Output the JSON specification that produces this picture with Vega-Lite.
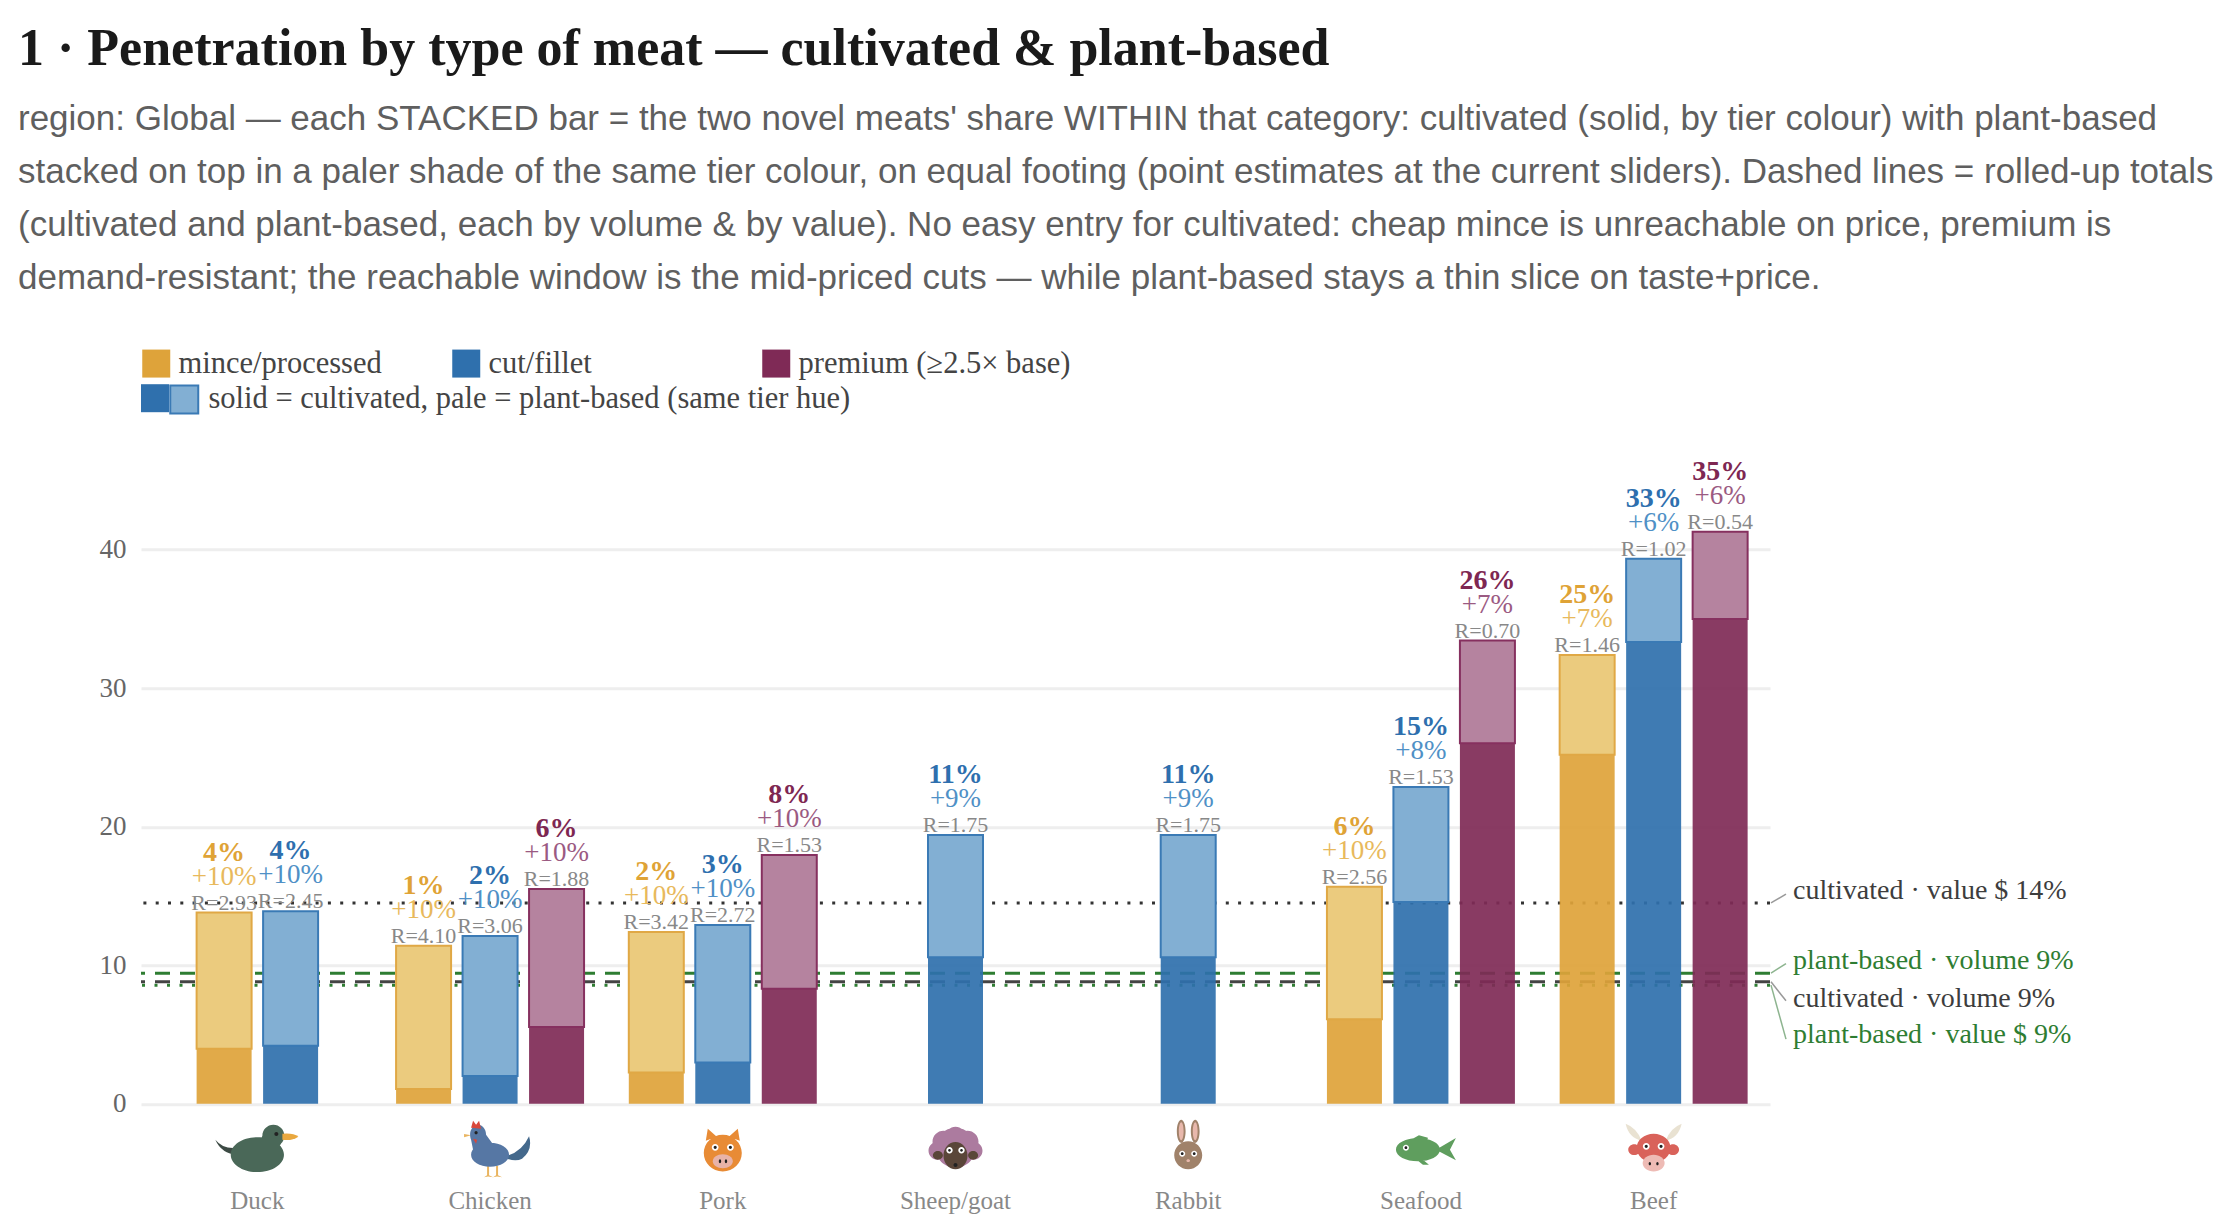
{
  "$schema": "https://vega.github.io/schema/vega-lite/v6.json",
  "width": 1629,
  "height": 692.5,
  "autosize": "none",
  "padding": {"left": 141, "top": 411.2, "right": 466, "bottom": 128.3},
  "background": "white",
  "title": {
    "text": "1 · Penetration by type of meat — cultivated & plant-based",
    "subtitle": [
      "region: Global — each STACKED bar = the two novel meats' share WITHIN that category: cultivated (solid, by tier colour) with plant-based",
      "stacked on top in a paler shade of the same tier colour, on equal footing (point estimates at the current sliders). Dashed lines = rolled-up totals",
      "(cultivated and plant-based, each by volume & by value). No easy entry for cultivated: cheap mince is unreachable on price, premium is",
      "demand-resistant; the reachable window is the mid-priced cuts — while plant-based stays a thin slice on taste+price."
    ],
    "anchor": "start",
    "frame": "group",
    "dx": -123,
    "offset": 51,
    "font": "Liberation Serif",
    "fontWeight": "bold",
    "fontSize": 52,
    "color": "#1a1a1a",
    "subtitleFont": "Liberation Sans",
    "subtitleFontSize": 35,
    "subtitleColor": "#5f5f5f",
    "subtitleLineHeight": 53,
    "subtitlePadding": 26
  },
  "config": {
    "view": {"stroke": null},
    "font": "Liberation Serif"
  },
  "datasets": {
    "bars": [
      {"meat": "Duck", "tier": "mince/processed", "slot": "midleft", "cultivated": 3.97, "total": 13.8, "share": "4%", "plant": "+10%", "ratio": "R=2.93"},
      {"meat": "Duck", "tier": "cut/fillet", "slot": "midright", "cultivated": 4.18, "total": 13.9, "share": "4%", "plant": "+10%", "ratio": "R=2.45"},
      {"meat": "Chicken", "tier": "mince/processed", "slot": "left", "cultivated": 1.06, "total": 11.4, "share": "1%", "plant": "+10%", "ratio": "R=4.10"},
      {"meat": "Chicken", "tier": "cut/fillet", "slot": "centre", "cultivated": 2.0, "total": 12.1, "share": "2%", "plant": "+10%", "ratio": "R=3.06"},
      {"meat": "Chicken", "tier": "premium (≥2.5× base)", "slot": "right", "cultivated": 5.53, "total": 15.5, "share": "6%", "plant": "+10%", "ratio": "R=1.88"},
      {"meat": "Pork", "tier": "mince/processed", "slot": "left", "cultivated": 2.26, "total": 12.4, "share": "2%", "plant": "+10%", "ratio": "R=3.42"},
      {"meat": "Pork", "tier": "cut/fillet", "slot": "centre", "cultivated": 2.98, "total": 12.9, "share": "3%", "plant": "+10%", "ratio": "R=2.72"},
      {"meat": "Pork", "tier": "premium (≥2.5× base)", "slot": "right", "cultivated": 8.3, "total": 17.96, "share": "8%", "plant": "+10%", "ratio": "R=1.53"},
      {"meat": "Sheep/goat", "tier": "cut/fillet", "slot": "centre", "cultivated": 10.58, "total": 19.4, "share": "11%", "plant": "+9%", "ratio": "R=1.75"},
      {"meat": "Rabbit", "tier": "cut/fillet", "slot": "centre", "cultivated": 10.58, "total": 19.4, "share": "11%", "plant": "+9%", "ratio": "R=1.75"},
      {"meat": "Seafood", "tier": "mince/processed", "slot": "left", "cultivated": 6.1, "total": 15.67, "share": "6%", "plant": "+10%", "ratio": "R=2.56"},
      {"meat": "Seafood", "tier": "cut/fillet", "slot": "centre", "cultivated": 14.57, "total": 22.86, "share": "15%", "plant": "+8%", "ratio": "R=1.53"},
      {"meat": "Seafood", "tier": "premium (≥2.5× base)", "slot": "right", "cultivated": 26.03, "total": 33.44, "share": "26%", "plant": "+7%", "ratio": "R=0.70"},
      {"meat": "Beef", "tier": "mince/processed", "slot": "left", "cultivated": 25.2, "total": 32.4, "share": "25%", "plant": "+7%", "ratio": "R=1.46"},
      {"meat": "Beef", "tier": "cut/fillet", "slot": "centre", "cultivated": 33.34, "total": 39.35, "share": "33%", "plant": "+6%", "ratio": "R=1.02"},
      {"meat": "Beef", "tier": "premium (≥2.5× base)", "slot": "right", "cultivated": 35.0, "total": 41.3, "share": "35%", "plant": "+6%", "ratio": "R=0.54"}
    ],
    "totals": [
      {"series": "cultivated · value $ 14%", "value": 14.5, "end": "Beef"},
      {"series": "plant-based · volume 9%", "value": 9.42, "end": "Beef"},
      {"series": "cultivated · volume 9%", "value": 8.8, "end": "Beef"},
      {"series": "plant-based · value $ 9%", "value": 8.56, "end": "Beef"}
    ],
    "icons": [
      {"meat": "Duck", "part": "duck-tail"},
      {"meat": "Duck", "part": "duck-body"},
      {"meat": "Duck", "part": "duck-bill"},
      {"meat": "Duck", "part": "duck-eye"},
      {"meat": "Chicken", "part": "chicken-tail"},
      {"meat": "Chicken", "part": "chicken-feet"},
      {"meat": "Chicken", "part": "chicken-body"},
      {"meat": "Chicken", "part": "chicken-comb"},
      {"meat": "Chicken", "part": "chicken-eye"},
      {"meat": "Pork", "part": "pig-head"},
      {"meat": "Pork", "part": "pig-snout"},
      {"meat": "Pork", "part": "pig-eyes"},
      {"meat": "Pork", "part": "pig-pupils"},
      {"meat": "Sheep/goat", "part": "sheep-wool"},
      {"meat": "Sheep/goat", "part": "sheep-face"},
      {"meat": "Sheep/goat", "part": "sheep-eyes"},
      {"meat": "Sheep/goat", "part": "sheep-pupils"},
      {"meat": "Rabbit", "part": "rabbit-body"},
      {"meat": "Rabbit", "part": "rabbit-inner"},
      {"meat": "Rabbit", "part": "rabbit-eyes"},
      {"meat": "Rabbit", "part": "rabbit-pupils"},
      {"meat": "Seafood", "part": "fish-body"},
      {"meat": "Seafood", "part": "fish-eye"},
      {"meat": "Seafood", "part": "fish-pupil"},
      {"meat": "Beef", "part": "cow-horns"},
      {"meat": "Beef", "part": "cow-head"},
      {"meat": "Beef", "part": "cow-snout"},
      {"meat": "Beef", "part": "cow-eyes"},
      {"meat": "Beef", "part": "cow-pupils"}
    ]
  },
  "resolve": {
    "scale": {"color": "independent", "stroke": "independent", "shape": "independent"},
    "legend": {"color": "independent"}
  },
  "encoding": {
    "x": {
      "field": "meat",
      "type": "nominal",
      "title": null,
      "scale": {
        "domain": ["Duck", "Chicken", "Pork", "Sheep/goat", "Rabbit", "Seafood", "Beef"],
        "paddingInner": 0,
        "paddingOuter": 0
      },
      "axis": {
        "domain": false,
        "ticks": false,
        "labelAngle": 0,
        "labelPadding": 85,
        "labelFont": "Liberation Serif",
        "labelFontSize": 25,
        "labelColor": "#888888"
      }
    }
  },
  "layer": [
    {
      "data": {"name": "totals"},
      "transform": [{"filter": "datum.series == 'cultivated · value $ 14%'"}],
      "mark": {"type": "rule", "color": "#333333", "strokeWidth": 3, "strokeDash": [3, 9.3]},
      "encoding": {
        "x": null,
        "y": {
          "field": "value",
          "type": "quantitative",
          "title": null,
          "scale": {"domain": [0, 50], "nice": false},
          "axis": {
            "values": [0, 10, 20, 30, 40],
            "grid": true,
            "gridColor": "#eeeeee",
            "gridWidth": 3,
            "domain": false,
            "ticks": false,
            "labelPadding": 15,
            "labelFont": "Liberation Serif",
            "labelFontSize": 27,
            "labelColor": "#666666"
          }
        }
      }
    },
    {
      "data": {"name": "totals"},
      "transform": [{"filter": "datum.series == 'plant-based · volume 9%'"}],
      "mark": {"type": "rule", "color": "#2e7d32", "strokeWidth": 3, "strokeDash": [15, 10]},
      "encoding": {"x": null, "y": {"field": "value", "type": "quantitative"}}
    },
    {
      "data": {"name": "totals"},
      "transform": [{"filter": "datum.series == 'plant-based · value $ 9%'"}],
      "mark": {"type": "rule", "color": "#2e7d32", "strokeWidth": 3, "strokeDash": [3, 9.5]},
      "encoding": {"x": null, "y": {"field": "value", "type": "quantitative"}}
    },
    {
      "data": {"name": "totals"},
      "transform": [{"filter": "datum.series == 'cultivated · volume 9%'"}],
      "mark": {"type": "rule", "color": "#444444", "strokeWidth": 3, "strokeDash": [15, 10]},
      "encoding": {"x": null, "y": {"field": "value", "type": "quantitative"}}
    },
    {
      "data": {"name": "bars"},
      "mark": {"type": "bar", "size": 55, "opacity": 0.92},
      "encoding": {
        "xOffset": {
          "field": "slot",
          "type": "nominal",
          "scale": {"domain": ["left", "midleft", "centre", "midright", "right"], "paddingInner": 0, "paddingOuter": 1.057}
        },
        "y": {"field": "cultivated", "type": "quantitative"},
        "y2": {"datum": 0},
        "color": {
          "field": "tier",
          "type": "nominal",
          "scale": {
            "domain": ["mince/processed", "cut/fillet", "premium (≥2.5× base)"],
            "range": ["#dea33a", "#2f70ad", "#7f2a56"]
          },
          "legend": {
            "title": null,
            "orient": "none",
            "legendX": 0,
            "legendY": -63,
            "padding": 0,
            "columns": 3,
            "gridAlign": "all",
            "columnPadding": -12,
            "symbolType": "square",
            "symbolSize": 784,
            "symbolStrokeWidth": 0,
            "symbolOpacity": 1,
            "labelOffset": 7,
            "labelLimit": 500,
            "labelFont": "Liberation Serif",
            "labelFontSize": 30.5,
            "labelColor": "#444444"
          }
        }
      }
    },
    {
      "data": {"name": "bars"},
      "mark": {"type": "bar", "size": 55, "strokeWidth": 2},
      "encoding": {
        "xOffset": {"field": "slot", "type": "nominal"},
        "y": {"field": "total", "type": "quantitative"},
        "y2": {"field": "cultivated"},
        "color": {
          "field": "tier",
          "type": "nominal",
          "scale": {
            "domain": ["mince/processed", "cut/fillet", "premium (≥2.5× base)"],
            "range": ["#ebcb7e", "#82afd3", "#b5839f"]
          },
          "legend": null
        },
        "stroke": {
          "field": "tier",
          "type": "nominal",
          "scale": {
            "domain": ["mince/processed", "cut/fillet", "premium (≥2.5× base)"],
            "range": ["#e0a845", "#3a7ab5", "#86305f"]
          },
          "legend": null
        }
      }
    },
    {
      "data": {"name": "bars"},
      "mark": {"type": "text", "dy": -3, "baseline": "alphabetic", "font": "Liberation Serif", "fontSize": 22, "color": "#888888"},
      "encoding": {
        "xOffset": {"field": "slot", "type": "nominal"},
        "y": {"field": "total", "type": "quantitative"},
        "text": {"field": "ratio"}
      }
    },
    {
      "data": {"name": "bars"},
      "mark": {"type": "text", "dy": -28, "baseline": "alphabetic", "font": "Liberation Serif", "fontSize": 27},
      "encoding": {
        "xOffset": {"field": "slot", "type": "nominal"},
        "y": {"field": "total", "type": "quantitative"},
        "text": {"field": "plant"},
        "color": {
          "field": "tier",
          "type": "nominal",
          "scale": {
            "domain": ["mince/processed", "cut/fillet", "premium (≥2.5× base)"],
            "range": ["#e8b95c", "#4f90c6", "#9b5a82"]
          },
          "legend": null
        }
      }
    },
    {
      "data": {"name": "bars"},
      "mark": {"type": "text", "dy": -52, "baseline": "alphabetic", "font": "Liberation Serif", "fontWeight": "bold", "fontSize": 28},
      "encoding": {
        "xOffset": {"field": "slot", "type": "nominal"},
        "y": {"field": "total", "type": "quantitative"},
        "text": {"field": "share"},
        "color": {
          "field": "tier",
          "type": "nominal",
          "scale": {
            "domain": ["mince/processed", "cut/fillet", "premium (≥2.5× base)"],
            "range": ["#dfa336", "#2e6fae", "#7e2752"]
          },
          "legend": null
        }
      }
    },
    {
      "data": {"name": "icons"},
      "mark": {"type": "point", "filled": true, "size": 1600, "opacity": 1, "strokeWidth": 0, "yOffset": 46},
      "encoding": {
        "y": {"datum": 0},
        "shape": {
          "field": "part",
          "type": "nominal",
          "legend": null,
          "scale": {
            "domain": ["duck-tail", "duck-body", "duck-bill", "duck-eye", "chicken-tail", "chicken-feet", "chicken-body", "chicken-comb", "chicken-eye", "pig-head", "pig-snout", "pig-eyes", "pig-pupils", "sheep-wool", "sheep-face", "sheep-eyes", "sheep-pupils", "rabbit-body", "rabbit-inner", "rabbit-eyes", "rabbit-pupils", "fish-body", "fish-eye", "fish-pupil", "cow-horns", "cow-head", "cow-snout", "cow-eyes", "cow-pupils"],
            "range": [
              "M-2.1,-0.5Q-1.7,0 -1,-0.1L-1,0.25Q-1.8,0.2 -2.1,-0.5Z",
              "M-1.33,0.25a1.33,0.87 0 1,1 2.66,0a1.33,0.87 0 1,1 -2.66,0ZM0.25,-0.7a0.55,0.55 0 1,1 1.1,0a0.55,0.55 0 1,1 -1.1,0ZM0.25,-0.7L1.3,-0.5L1,0L0.1,-0.3Z",
              "M1.25,-0.8Q1.8,-0.85 2.05,-0.65Q1.7,-0.42 1.25,-0.5Z",
              "M0.85,-0.78a0.1,0.1 0 1,1 0.2,0a0.1,0.1 0 1,1 -0.2,0Z",
              "M0.85,0.3Q1.6,0.1 1.95,-0.67Q2.15,0 1.6,0.45Q1.3,0.6 0.85,0.45Z",
              "M-0.15,0.8L-0.05,0.8L-0.05,1.28L0.15,1.38L-0.1,1.34L-0.3,1.38L-0.15,1.28ZM0.3,0.8L0.4,0.8L0.4,1.28L0.6,1.38L0.35,1.34L0.15,1.38L0.3,1.28ZM-1.3,-0.78L-0.95,-0.72L-1.3,-0.62Z",
              "M-0.95,0.25a0.95,0.6 0 1,1 1.9,0a0.95,0.6 0 1,1 -1.9,0ZM-1,-0.75a0.4,0.5 0 1,1 0.8,0a0.4,0.5 0 1,1 -0.8,0ZM-1,-0.75L-0.2,-0.75L0.2,-0.2L-0.85,0Z",
              "M-0.95,-1.1L-0.85,-1.45L-0.7,-1.25L-0.55,-1.45L-0.45,-1.05ZM-0.85,-0.55L-0.65,-0.5L-0.7,-0.3Z",
              "M-0.78,-0.85a0.08,0.08 0 1,1 0.16,0a0.08,0.08 0 1,1 -0.16,0Z",
              "M-0.95,0.17a0.95,0.92 0 1,1 1.9,0a0.95,0.92 0 1,1 -1.9,0ZM-0.85,-0.45L-0.75,-1.05L-0.3,-0.65ZM0.3,-0.65L0.75,-1.05L0.85,-0.45Z",
              "M-0.5,0.58a0.5,0.35 0 1,1 1,0a0.5,0.35 0 1,1 -1,0Z",
              "M-0.55,-0.12a0.17,0.17 0 1,1 0.34,0a0.17,0.17 0 1,1 -0.34,0ZM0.21,-0.12a0.17,0.17 0 1,1 0.34,0a0.17,0.17 0 1,1 -0.34,0Z",
              "M-0.46,-0.12a0.08,0.08 0 1,1 0.16,0a0.08,0.08 0 1,1 -0.16,0ZM0.3,-0.12a0.08,0.08 0 1,1 0.16,0a0.08,0.08 0 1,1 -0.16,0ZM-0.2,0.58a0.06,0.1 0 1,1 0.12,0a0.06,0.1 0 1,1 -0.12,0ZM0.1,0.58a0.06,0.1 0 1,1 0.12,0a0.06,0.1 0 1,1 -0.12,0Z",
              "M-1,-0.1a1,1 0 1,1 2,0a1,1 0 1,1 -2,0ZM-0.5,-0.65a0.5,0.5 0 1,1 1,0a0.5,0.5 0 1,1 -1,0ZM-1.15,-0.4a0.55,0.55 0 1,1 1.1,0a0.55,0.55 0 1,1 -1.1,0ZM0.05,-0.4a0.55,0.55 0 1,1 1.1,0a0.55,0.55 0 1,1 -1.1,0ZM-1.35,0.05a0.45,0.45 0 1,1 0.9,0a0.45,0.45 0 1,1 -0.9,0ZM0.45,0.05a0.45,0.45 0 1,1 0.9,0a0.45,0.45 0 1,1 -0.9,0Z",
              "M-0.6,0.3a0.6,0.68 0 1,1 1.2,0a0.6,0.68 0 1,1 -1.2,0ZM-1.13,0.28a0.25,0.22 0 1,1 0.5,0a0.25,0.22 0 1,1 -0.5,0ZM0.63,0.28a0.25,0.22 0 1,1 0.5,0a0.25,0.22 0 1,1 -0.5,0Z",
              "M-0.46,0.03a0.16,0.16 0 1,1 0.32,0a0.16,0.16 0 1,1 -0.32,0ZM0.14,0.03a0.16,0.16 0 1,1 0.32,0a0.16,0.16 0 1,1 -0.32,0Z",
              "M-0.37,0.03a0.07,0.07 0 1,1 0.14,0a0.07,0.07 0 1,1 -0.14,0ZM0.23,0.03a0.07,0.07 0 1,1 0.14,0a0.07,0.07 0 1,1 -0.14,0ZM-0.1,0.77a0.1,0.1 0 1,1 0.2,0a0.1,0.1 0 1,1 -0.2,0Z",
              "M-0.7,0.28a0.7,0.7 0 1,1 1.4,0a0.7,0.7 0 1,1 -1.4,0ZM-0.57,-0.92a0.22,0.58 0 1,1 0.44,0a0.22,0.58 0 1,1 -0.44,0ZM0.13,-0.92a0.22,0.58 0 1,1 0.44,0a0.22,0.58 0 1,1 -0.44,0Z",
              "M-0.47,-0.92a0.12,0.45 0 1,1 0.24,0a0.12,0.45 0 1,1 -0.24,0ZM0.23,-0.92a0.12,0.45 0 1,1 0.24,0a0.12,0.45 0 1,1 -0.24,0ZM-0.09,0.55a0.09,0.07 0 1,1 0.18,0a0.09,0.07 0 1,1 -0.18,0Z",
              "M-0.45,0.2a0.15,0.15 0 1,1 0.3,0a0.15,0.15 0 1,1 -0.3,0ZM0.15,0.2a0.15,0.15 0 1,1 0.3,0a0.15,0.15 0 1,1 -0.3,0Z",
              "M-0.37,0.2a0.07,0.07 0 1,1 0.14,0a0.07,0.07 0 1,1 -0.14,0ZM0.23,0.2a0.07,0.07 0 1,1 0.14,0a0.07,0.07 0 1,1 -0.14,0Z",
              "M-1.25,0a1.1,0.58 0 1,1 2.2,0a1.1,0.58 0 1,1 -2.2,0ZM0.75,0L1.75,-0.58L1.45,0L1.75,0.53ZM-0.5,-0.5L-0.1,-0.72L0.35,-0.6L0.3,-0.4ZM0.1,0.5L0.4,0.75L0.1,0.75L-0.15,0.55Z",
              "M-0.9,-0.1a0.15,0.15 0 1,1 0.3,0a0.15,0.15 0 1,1 -0.3,0Z",
              "M-0.82,-0.1a0.07,0.07 0 1,1 0.14,0a0.07,0.07 0 1,1 -0.14,0Z",
              "M-1.4,-1.3Q-0.85,-1.1 -0.6,-0.45Q-1.25,-0.6 -1.4,-1.3ZM1.4,-1.3Q1.25,-0.6 0.6,-0.45Q0.85,-1.1 1.4,-1.3Z",
              "M-0.85,-0.08a0.85,0.72 0 1,1 1.7,0a0.85,0.72 0 1,1 -1.7,0ZM-1.27,0a0.3,0.27 0 1,1 0.6,0a0.3,0.27 0 1,1 -0.6,0ZM0.67,0a0.3,0.27 0 1,1 0.6,0a0.3,0.27 0 1,1 -0.6,0Z",
              "M-0.55,0.67a0.55,0.42 0 1,1 1.1,0a0.55,0.42 0 1,1 -1.1,0Z",
              "M-0.54,-0.17a0.17,0.17 0 1,1 0.34,0a0.17,0.17 0 1,1 -0.34,0ZM0.2,-0.17a0.17,0.17 0 1,1 0.34,0a0.17,0.17 0 1,1 -0.34,0Z",
              "M-0.45,-0.17a0.08,0.08 0 1,1 0.16,0a0.08,0.08 0 1,1 -0.16,0ZM0.29,-0.17a0.08,0.08 0 1,1 0.16,0a0.08,0.08 0 1,1 -0.16,0ZM-0.25,0.7a0.06,0.08 0 1,1 0.12,0a0.06,0.08 0 1,1 -0.12,0ZM0.13,0.7a0.06,0.08 0 1,1 0.12,0a0.06,0.08 0 1,1 -0.12,0Z"
            ]
          }
        },
        "color": {
          "field": "part",
          "type": "nominal",
          "legend": null,
          "scale": {
            "domain": ["duck-tail", "duck-body", "duck-bill", "duck-eye", "chicken-tail", "chicken-feet", "chicken-body", "chicken-comb", "chicken-eye", "pig-head", "pig-snout", "pig-eyes", "pig-pupils", "sheep-wool", "sheep-face", "sheep-eyes", "sheep-pupils", "rabbit-body", "rabbit-inner", "rabbit-eyes", "rabbit-pupils", "fish-body", "fish-eye", "fish-pupil", "cow-horns", "cow-head", "cow-snout", "cow-eyes", "cow-pupils"],
            "range": ["#3c4a44", "#4a6858", "#e9a83f", "#222222", "#44698c", "#e9b45f", "#5677a4", "#d9483b", "#222222", "#e88b35", "#e8b3a8", "#ffffff", "#222222", "#ac7b9f", "#5a4639", "#ffffff", "#222222", "#a0826a", "#e8b8ac", "#ffffff", "#222222", "#5f9e5e", "#ffffff", "#222222", "#e9e2d2", "#d9625a", "#eebbb5", "#ffffff", "#222222"]
          }
        }
      }
    },
    {
      "data": {"name": "totals"},
      "transform": [{"filter": "datum.series == 'cultivated · value $ 14%'"}],
      "mark": {"type": "point", "shape": "M1,0L16,-8.7", "size": 4, "filled": false, "opacity": 1, "color": "#999999", "strokeWidth": 1.5},
      "encoding": {"x": {"field": "end", "type": "nominal", "bandPosition": 1}, "y": {"field": "value", "type": "quantitative"}}
    },
    {
      "data": {"name": "totals"},
      "transform": [{"filter": "datum.series == 'plant-based · volume 9%'"}],
      "mark": {"type": "point", "shape": "M1,0L16,-9.7", "size": 4, "filled": false, "opacity": 1, "color": "#8db48f", "strokeWidth": 1.5},
      "encoding": {"x": {"field": "end", "type": "nominal", "bandPosition": 1}, "y": {"field": "value", "type": "quantitative"}}
    },
    {
      "data": {"name": "totals"},
      "transform": [{"filter": "datum.series == 'cultivated · volume 9%'"}],
      "mark": {"type": "point", "shape": "M1,0L16,19", "size": 4, "filled": false, "opacity": 1, "color": "#999999", "strokeWidth": 1.5},
      "encoding": {"x": {"field": "end", "type": "nominal", "bandPosition": 1}, "y": {"field": "value", "type": "quantitative"}}
    },
    {
      "data": {"name": "totals"},
      "transform": [{"filter": "datum.series == 'plant-based · value $ 9%'"}],
      "mark": {"type": "point", "shape": "M1,0L16,54", "size": 4, "filled": false, "opacity": 1, "color": "#8db48f", "strokeWidth": 1.5},
      "encoding": {"x": {"field": "end", "type": "nominal", "bandPosition": 1}, "y": {"field": "value", "type": "quantitative"}}
    },
    {
      "data": {"name": "totals"},
      "transform": [{"filter": "datum.series == 'cultivated · value $ 14%'"}],
      "mark": {"type": "text", "align": "left", "baseline": "alphabetic", "dx": 23, "dy": -4, "font": "Liberation Serif", "fontSize": 28, "color": "#3d3d3d"},
      "encoding": {"x": {"field": "end", "type": "nominal", "bandPosition": 1}, "y": {"field": "value", "type": "quantitative"}, "text": {"field": "series"}}
    },
    {
      "data": {"name": "totals"},
      "transform": [{"filter": "datum.series == 'plant-based · volume 9%'"}],
      "mark": {"type": "text", "align": "left", "baseline": "alphabetic", "dx": 23, "dy": -4, "font": "Liberation Serif", "fontSize": 28, "color": "#2e7d32"},
      "encoding": {"x": {"field": "end", "type": "nominal", "bandPosition": 1}, "y": {"field": "value", "type": "quantitative"}, "text": {"field": "series"}}
    },
    {
      "data": {"name": "totals"},
      "transform": [{"filter": "datum.series == 'cultivated · volume 9%'"}],
      "mark": {"type": "text", "align": "left", "baseline": "alphabetic", "dx": 23, "dy": 25, "font": "Liberation Serif", "fontSize": 28, "color": "#3d3d3d"},
      "encoding": {"x": {"field": "end", "type": "nominal", "bandPosition": 1}, "y": {"field": "value", "type": "quantitative"}, "text": {"field": "series"}}
    },
    {
      "data": {"name": "totals"},
      "transform": [{"filter": "datum.series == 'plant-based · value $ 9%'"}],
      "mark": {"type": "text", "align": "left", "baseline": "alphabetic", "dx": 23, "dy": 58, "font": "Liberation Serif", "fontSize": 28, "color": "#2e7d32"},
      "encoding": {"x": {"field": "end", "type": "nominal", "bandPosition": 1}, "y": {"field": "value", "type": "quantitative"}, "text": {"field": "series"}}
    },
    {
      "data": {"values": [{"swatch": " "}]},
      "mark": {"type": "point", "filled": true, "opacity": 0},
      "encoding": {
        "x": null,
        "color": {
          "field": "swatch",
          "type": "nominal",
          "scale": {"domain": [" "], "range": ["#2f70ad"]},
          "legend": {
            "title": null,
            "orient": "none",
            "legendX": 0,
            "legendY": -27,
            "padding": 0,
            "symbolType": "square",
            "symbolSize": 784,
            "symbolStrokeWidth": 0,
            "symbolOpacity": 1
          }
        }
      }
    },
    {
      "data": {"values": [{"swatch": "solid = cultivated, pale = plant-based (same tier hue)"}]},
      "mark": {"type": "point", "filled": true, "opacity": 0},
      "encoding": {
        "x": null,
        "color": {
          "field": "swatch",
          "type": "nominal",
          "scale": {"domain": ["solid = cultivated, pale = plant-based (same tier hue)"], "range": ["#82afd3"]},
          "legend": {
            "title": null,
            "orient": "none",
            "legendX": 28,
            "legendY": -27,
            "padding": 0,
            "symbolType": "square",
            "symbolSize": 784,
            "symbolStrokeColor": "#3a7ab5",
            "symbolStrokeWidth": 2,
            "symbolOpacity": 1,
            "labelOffset": 9,
            "labelLimit": 900,
            "labelFont": "Liberation Serif",
            "labelFontSize": 30.5,
            "labelColor": "#444444"
          }
        }
      }
    }
  ]
}
